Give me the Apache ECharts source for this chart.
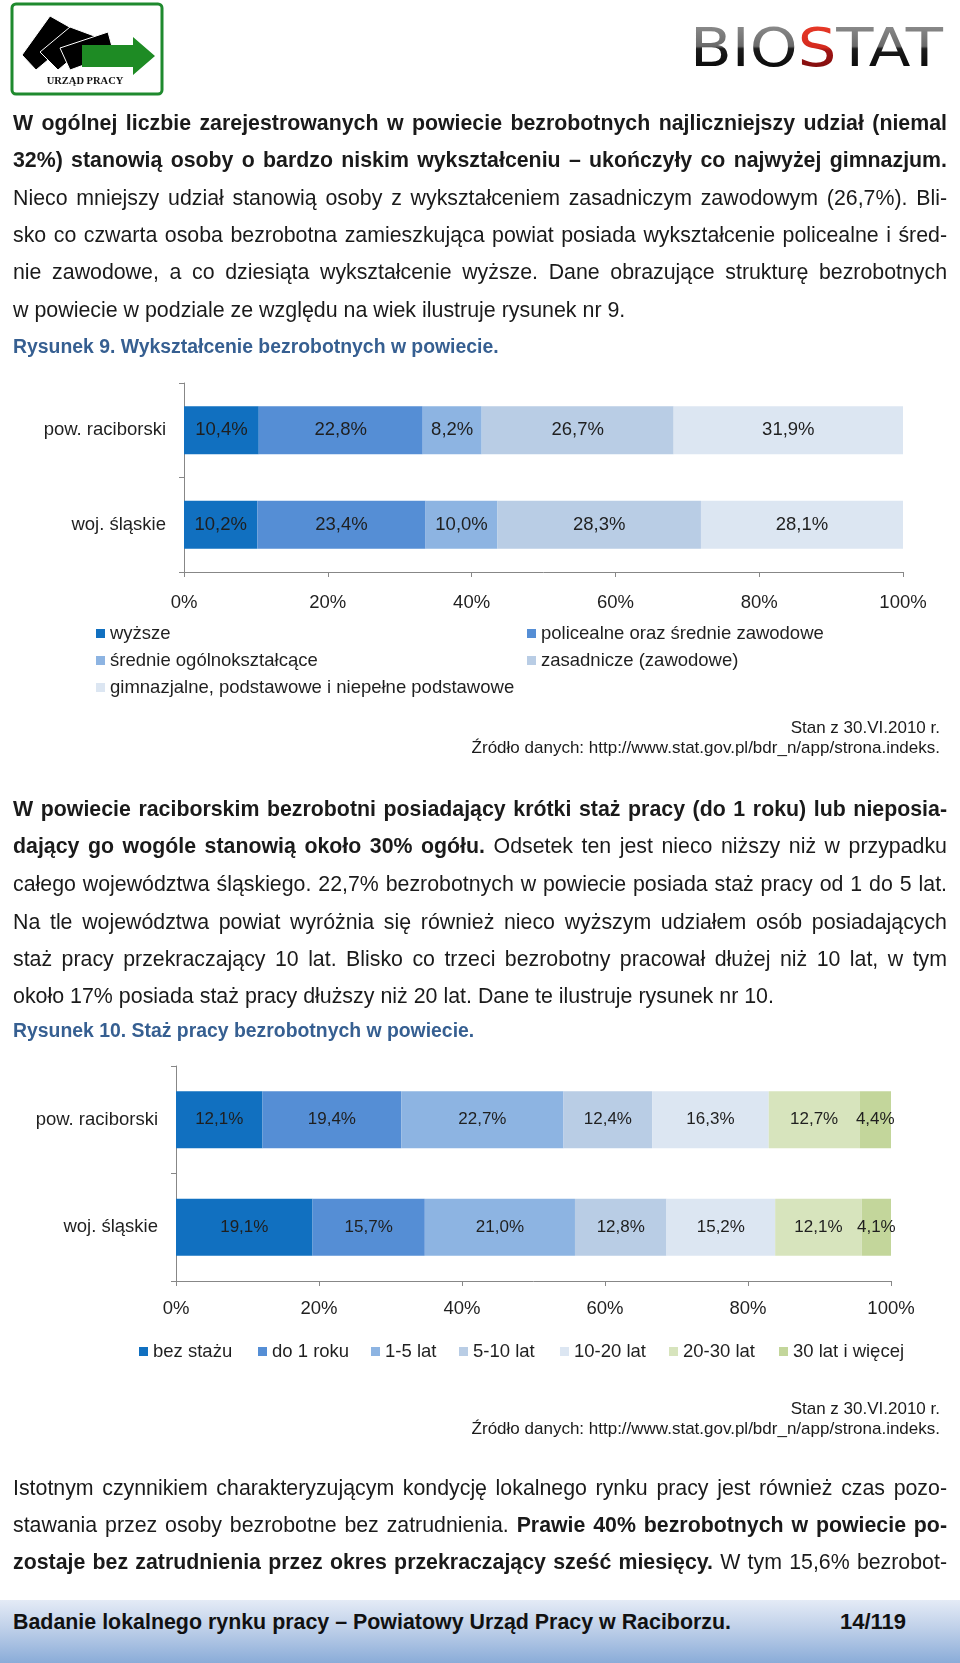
<!DOCTYPE html>
<html><head><meta charset="utf-8">
<script src="https://cdn.jsdelivr.net/npm/echarts/dist/echarts.min.js"></script>
<style>
html,body{margin:0;padding:0;background:#fff;}
#page{position:relative;width:960px;height:1663px;overflow:hidden;font-family:"Liberation Sans",Arial,sans-serif;color:#1a1a1a;}
#chart{position:absolute;left:0;top:0;width:960px;height:1663px;}
.ln{position:absolute;left:13px;width:934px;height:30px;line-height:30px;font-size:21.4px;overflow:hidden;}
.j{text-align:justify;text-align-last:justify;}
.b{font-weight:bold;}
.cap{position:absolute;left:13px;height:26px;line-height:26px;color:#365f91;font-weight:bold;font-size:19.4px;white-space:nowrap;}
.src{position:absolute;right:20px;height:20px;line-height:20px;font-size:17px;text-align:right;white-space:nowrap;color:#1a1a1a;}
#footer{position:absolute;left:0;top:1600px;width:960px;height:63px;background:linear-gradient(#e4ebf6,#bfd0e9 45%,#8aacd8);}
.ft{position:absolute;top:8px;height:28px;line-height:28px;font-size:21.4px;font-weight:bold;color:#111;white-space:nowrap;}
</style></head>
<body>
<div id="page">
<div id="chart"></div>

<svg style="position:absolute;left:0;top:0" width="180" height="100" viewBox="0 0 180 100">
  <rect x="12" y="4" width="150" height="90" rx="4" ry="4" fill="#fff" stroke="#1f8a2e" stroke-width="3"/>
  <polygon points="22,55 50,16 80,33 36,70" fill="#000" stroke="#fff" stroke-width="1"/>
  <polygon points="40,52 70,27 97,37 58,70" fill="#000" stroke="#fff" stroke-width="1"/>
  <polygon points="60,48 108,32 114,54 70,70" fill="#000" stroke="#fff" stroke-width="1"/>
  <polygon points="82,45 133,45 133,37 155,56 133,75 133,67 82,67" fill="#1e8b24"/>
  <text x="85" y="84" text-anchor="middle" font-family="Liberation Serif, serif" font-weight="bold" font-size="10.5" fill="#111">URZĄD PRACY</text>
</svg>

<svg style="position:absolute;left:660px;top:10px" width="300" height="80" viewBox="0 0 300 80">
  <defs>
    <linearGradient id="gg" x1="0" y1="0" x2="0" y2="1">
      <stop offset="0" stop-color="#9a9a9a"/><stop offset="0.48" stop-color="#6a6a6a"/>
      <stop offset="0.52" stop-color="#1c1c1c"/><stop offset="1" stop-color="#000"/>
    </linearGradient>
    <linearGradient id="rg" x1="0" y1="0" x2="0" y2="1">
      <stop offset="0" stop-color="#f0402c"/><stop offset="0.5" stop-color="#d42a1e"/>
      <stop offset="0.55" stop-color="#a01414"/><stop offset="1" stop-color="#6e0a0a"/>
    </linearGradient>
  </defs>
  <text x="30" y="56" font-family="DejaVu Sans, sans-serif" font-size="54" textLength="253" lengthAdjust="spacingAndGlyphs" fill="url(#gg)">BIO<tspan fill="url(#rg)">S</tspan>TAT</text>
</svg>

<div class="ln j b" style="top:108px">W ogólnej liczbie zarejestrowanych w powiecie bezrobotnych najliczniejszy udział (niemal</div>
<div class="ln j b" style="top:145px">32%) stanowią osoby o bardzo niskim wykształceniu – ukończyły co najwyżej gimnazjum.</div>
<div class="ln j" style="top:183px">Nieco mniejszy udział stanowią osoby z wykształceniem zasadniczym zawodowym (26,7%). Bli-</div>
<div class="ln j" style="top:220px">sko co czwarta osoba bezrobotna zamieszkująca powiat posiada wykształcenie policealne i śred-</div>
<div class="ln j" style="top:257px">nie zawodowe, a co dziesiąta wykształcenie wyższe. Dane obrazujące strukturę bezrobotnych</div>
<div class="ln" style="top:295px">w powiecie w podziale ze względu na wiek ilustruje rysunek nr 9.</div>
<div class="cap" style="top:333px">Rysunek 9. Wykształcenie bezrobotnych w powiecie.</div>

<div class="src" style="top:718px">Stan z 30.VI.2010 r.</div>
<div class="src" style="top:738px">Źródło danych: http://www.stat.gov.pl/bdr_n/app/strona.indeks.</div>

<div class="ln j b" style="top:794px">W powiecie raciborskim bezrobotni posiadający krótki staż pracy (do 1 roku) lub nieposia-</div>
<div class="ln j" style="top:831px"><span class="b">dający go wogóle stanowią około 30% ogółu.</span> Odsetek ten jest nieco niższy niż w przypadku</div>
<div class="ln j" style="top:869px">całego województwa śląskiego. 22,7% bezrobotnych w powiecie posiada staż pracy od 1 do 5 lat.</div>
<div class="ln j" style="top:907px">Na tle województwa powiat wyróżnia się również nieco wyższym udziałem osób posiadających</div>
<div class="ln j" style="top:944px">staż pracy przekraczający 10 lat. Blisko co trzeci bezrobotny pracował dłużej niż 10 lat, w tym</div>
<div class="ln" style="top:981px">około 17% posiada staż pracy dłuższy niż 20 lat. Dane te ilustruje rysunek nr 10.</div>
<div class="cap" style="top:1017px">Rysunek 10. Staż pracy bezrobotnych w powiecie.</div>

<div class="src" style="top:1399px">Stan z 30.VI.2010 r.</div>
<div class="src" style="top:1419px">Źródło danych: http://www.stat.gov.pl/bdr_n/app/strona.indeks.</div>

<div class="ln j" style="top:1473px">Istotnym czynnikiem charakteryzującym kondycję lokalnego rynku pracy jest również czas pozo-</div>
<div class="ln j" style="top:1510px">stawania przez osoby bezrobotne bez zatrudnienia. <span class="b">Prawie 40% bezrobotnych w powiecie po-</span></div>
<div class="ln j" style="top:1547px"><span class="b">zostaje bez zatrudnienia przez okres przekraczający sześć miesięcy.</span> W tym 15,6% bezrobot-</div>

<div id="footer">
  <div class="ft" style="left:13px">Badanie lokalnego rynku pracy – Powiatowy Urząd Pracy w Raciborzu.</div>
  <div class="ft" style="left:840px;font-size:22px">14/119</div>
</div>
</div>

<script>
// ---- data ----
const categories = ['pow. raciborski', 'woj. śląskie'];
const eduNames = ['wyższe', 'policealne oraz średnie zawodowe', 'średnie ogólnokształcące', 'zasadnicze (zawodowe)', 'gimnazjalne, podstawowe i niepełne podstawowe'];
const eduRaciborski = [10.4, 22.8, 8.2, 26.7, 31.9];
const eduSlaskie = [10.2, 23.4, 10.0, 28.3, 28.1];
const expNames = ['bez stażu', 'do 1 roku', '1-5 lat', '5-10 lat', '10-20 lat', '20-30 lat', '30 lat i więcej'];
const expRaciborski = [12.1, 19.4, 22.7, 12.4, 16.3, 12.7, 4.4];
const expSlaskie = [19.1, 15.7, 21.0, 12.8, 15.2, 12.1, 4.1];
const xTickLabels = ['0%', '20%', '40%', '60%', '80%', '100%'];

// ---- fit paragraph lines so none wraps ----
document.querySelectorAll('.ln').forEach(el => {
  const html = el.innerHTML;
  el.innerHTML = '<span style="white-space:nowrap">' + html + '</span>';
  const w = el.firstChild.getBoundingClientRect().width;
  el.innerHTML = html;
  if (w > 931) {
    const fs = parseFloat(getComputedStyle(el).fontSize);
    el.style.fontSize = (fs * 931 / w).toFixed(2) + 'px';
  }
});

// ---- styles ----
const eduColors = ['#1170c0', '#558ed5', '#8db4e2', '#b9cde5', '#dce6f2'];
const expColors = ['#1170c0', '#558ed5', '#8db4e2', '#b9cde5', '#dce6f2', '#d7e4bd', '#c3d69b'];
const FONT = 'Liberation Sans';
const TXT = '#1f1f1f';
const AX = '#878787';

const chart = echarts.init(document.getElementById('chart'), null, {renderer: 'canvas'});
const fmt = p => p.value.toFixed(1).replace('.', ',') + '%';

function xAxisDef(gi, margin) {
  return {
    type: 'value', gridIndex: gi, min: 0, max: 100, interval: 20,
    axisLine: {show: true, lineStyle: {color: AX, width: 1}},
    axisTick: {show: true, length: 5, lineStyle: {color: AX}},
    splitLine: {show: false},
    axisLabel: {margin: margin, fontFamily: FONT, fontSize: 18.5, color: TXT,
      formatter: v => xTickLabels[Math.round(v / 20)]}
  };
}
function yAxisDef(gi) {
  return {
    type: 'category', gridIndex: gi, data: categories, inverse: true,
    axisLine: {show: true, lineStyle: {color: AX, width: 1}},
    axisTick: {show: true, length: 5, lineStyle: {color: AX}},
    axisLabel: {margin: 18, fontFamily: FONT, fontSize: 18.5, color: TXT}
  };
}

const series = [];
eduNames.forEach((n, i) => series.push({
  name: n, type: 'bar', stack: 'edu', xAxisIndex: 0, yAxisIndex: 0, barWidth: '51%',
  data: [eduRaciborski[i], eduSlaskie[i]],
  itemStyle: {color: eduColors[i]},
  label: {show: true, position: 'inside', formatter: fmt, fontFamily: FONT, fontSize: 18.5, color: TXT},
  emphasis: {disabled: true}
}));
expNames.forEach((n, i) => series.push({
  name: n, type: 'bar', stack: 'exp', xAxisIndex: 1, yAxisIndex: 1, barWidth: '53%',
  data: [expRaciborski[i], expSlaskie[i]],
  itemStyle: {color: expColors[i]},
  label: {show: true, position: 'inside', formatter: fmt, fontFamily: FONT, fontSize: 17, color: TXT},
  emphasis: {disabled: true}
}));

const legendBase = {orient: 'horizontal', padding: 0, itemWidth: 9, itemHeight: 9, itemGap: 0, icon: 'rect',
  selectedMode: false, textStyle: {fontFamily: FONT, fontSize: 18.5, color: TXT}};
const eduLegendPos = [[96, 624], [527, 624], [96, 651], [527, 651], [96, 678]];
const expLegendPos = [139, 258, 371, 459, 560, 669, 779];
const legends = [];
eduNames.forEach((n, i) => legends.push(Object.assign({}, legendBase, {data: [n], left: eduLegendPos[i][0], top: eduLegendPos[i][1]})));
expNames.forEach((n, i) => legends.push(Object.assign({}, legendBase, {data: [n], left: expLegendPos[i], top: 1342})));

chart.setOption({
  animation: false,
  grid: [
    {left: 184, width: 719, top: 383, height: 189, containLabel: false},
    {left: 176, width: 715, top: 1066, height: 215, containLabel: false}
  ],
  xAxis: [xAxisDef(0, 21), xAxisDef(1, 18)],
  yAxis: [yAxisDef(0), yAxisDef(1)],
  legend: legends,
  series: series
});
</script>
</body></html>
